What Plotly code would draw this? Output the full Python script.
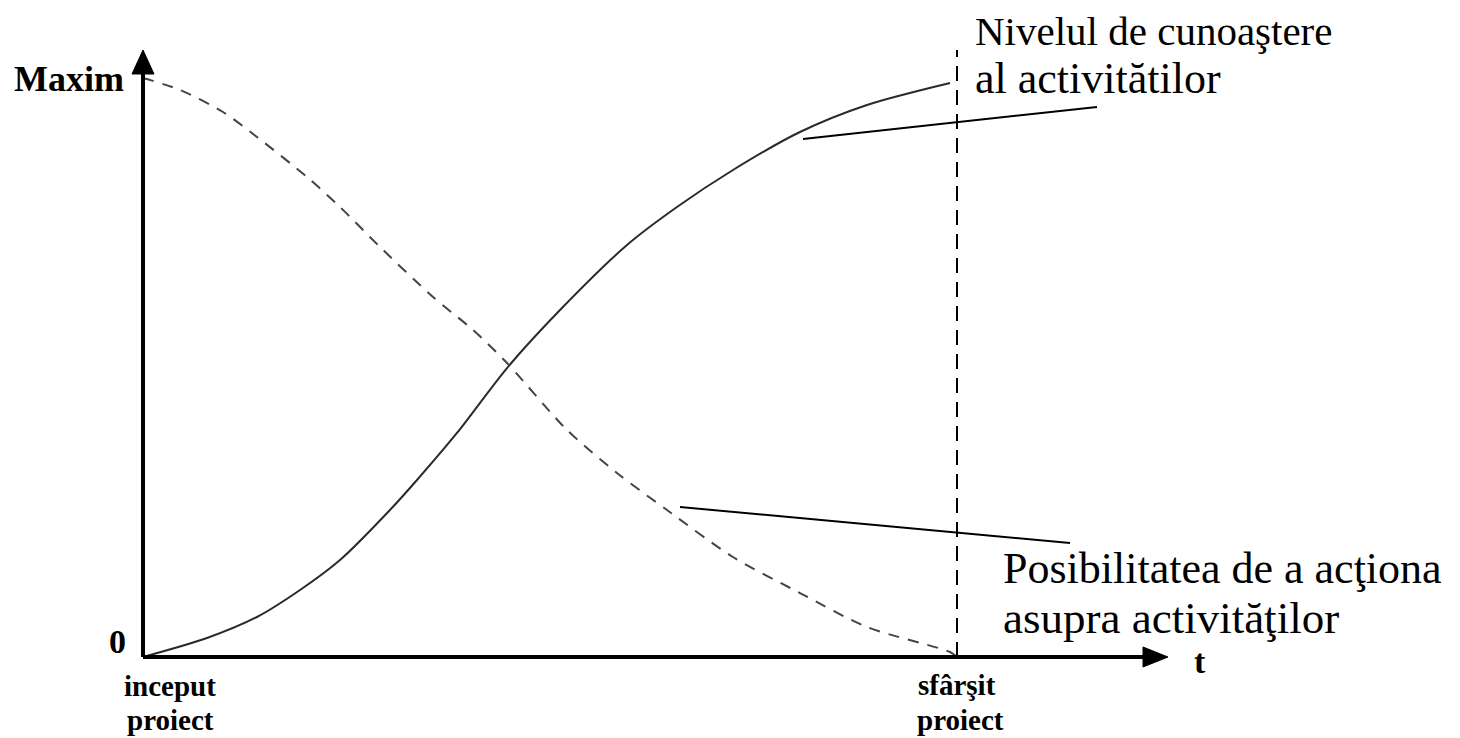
import plotly.graph_objects as go

# ---- data (t: 0 = project start, 1 = project end; level: 0 .. 1 = Maxim) ----
knowledge_t = [0.0, 0.0786, 0.1400, 0.1929, 0.2420, 0.3034, 0.3366, 0.3857, 0.4472,
               0.5123, 0.5946, 0.6560, 0.7248, 0.8071, 0.8894, 0.9914]
knowledge_level = [0.0, 0.0328, 0.0691, 0.1157, 0.1675, 0.2539, 0.3057, 0.3869, 0.4991,
                   0.5993, 0.7116, 0.7772, 0.8411, 0.9067, 0.9534, 0.9914]

action_t = [0.0, 0.0455, 0.0983, 0.1400, 0.2015, 0.2420, 0.2912, 0.3563, 0.4054, 0.4472,
            0.5209, 0.5823, 0.6437, 0.7248, 0.8071, 0.8894, 0.9914, 1.0]
action_level = [1.0, 0.9793, 0.9413, 0.8981, 0.8290, 0.7772, 0.7081, 0.6218, 0.5648, 0.5078,
                0.3921, 0.3178, 0.2539, 0.1727, 0.1105, 0.0518, 0.0086, 0.0]

y_labels = ["0", "Maxim"]
x_labels = ["inceput", "proiect", "sfârşit", "proiect"]
axis_name = "t"
label_knowledge = ["Nivelul de cunoaştere", "al activitătilor"]
label_action = ["Posibilitatea de a acţiona", "asupra activităţilor"]

# ---- layout geometry (page pixels) ----
W, H = 1460, 738
OFF = 8                 # default page body margin
X0, X1 = 143, 957       # page pixel of t=0 and t=1
Y0, Y1 = 657, 78        # page pixel of level=0 and level=1


def tx(px):
    return (px - X0) / (X1 - X0)


def ty(py):
    return (Y0 - py) / (Y0 - Y1)


fig = go.Figure()

fig.add_trace(go.Scatter(x=knowledge_t, y=knowledge_level, mode="lines",
                         line=dict(color="#2a2a2a", width=2, shape="spline", smoothing=0.8),
                         hoverinfo="skip", showlegend=False))
fig.add_trace(go.Scatter(x=action_t, y=action_level, mode="lines",
                         line=dict(color="#444444", width=2, dash="11px,9px", shape="spline", smoothing=0.8),
                         hoverinfo="skip", showlegend=False))

shapes = []
# axes
shapes.append(dict(type="line", xref="x", yref="y", x0=0, x1=tx(1146), y0=0, y1=0,
                   line=dict(color="black", width=4)))
shapes.append(dict(type="line", xref="x", yref="y", x0=0, x1=0, y0=0, y1=ty(72),
                   line=dict(color="black", width=4)))
# arrow heads
shapes.append(dict(type="path", xref="x", yref="y", xsizemode="pixel", ysizemode="pixel",
                   xanchor=tx(1168), yanchor=0, path="M 0,0 L -25,10 L -25,-10 Z",
                   fillcolor="black", line=dict(color="black", width=1)))
shapes.append(dict(type="path", xref="x", yref="y", xsizemode="pixel", ysizemode="pixel",
                   xanchor=0, yanchor=ty(50), path="M 0,0 L -11,-24 L 11,-24 Z",
                   fillcolor="black", line=dict(color="black", width=1)))
# end of project vertical dashed line
shapes.append(dict(type="line", xref="x", yref="y", x0=1, x1=1, y0=0, y1=ty(50),
                   line=dict(color="black", width=2, dash="15px,9px")))
# leader lines
shapes.append(dict(type="line", xref="x", yref="y", x0=tx(803), y0=ty(139), x1=tx(1097), y1=ty(107),
                   line=dict(color="black", width=2)))
shapes.append(dict(type="line", xref="x", yref="y", x0=tx(680), y0=ty(507), x1=tx(1070), y1=ty(543),
                   line=dict(color="black", width=2)))

serif = "Liberation Serif"
ann = []


def add_text(text, px, py, xanchor, size, bold=False):
    ann.append(dict(text=text, x=tx(px), y=ty(py), xref="x", yref="y", showarrow=False,
                    xanchor=xanchor, yanchor="middle",
                    font=dict(family=serif, size=size, color="black",
                              weight="bold" if bold else "normal")))


add_text(y_labels[1], 126, 79, "right", 36, True)
add_text(y_labels[0], 117, 641, "center", 34, True)
add_text(axis_name, 1200, 661, "center", 34, True)
add_text(x_labels[0], 170, 686, "center", 29, True)
add_text(x_labels[1], 170, 720, "center", 29, True)
add_text(x_labels[2], 957, 685, "center", 29, True)
add_text(x_labels[3], 960, 720, "center", 29, True)
add_text(label_knowledge[0], 973, 31, "left", 41)
add_text(label_knowledge[1], 973, 78, "left", 44)
add_text(label_action[0], 1001, 568, "left", 44)
add_text(label_action[1], 1001, 618, "left", 45)

fig.update_layout(
    width=W, height=H,
    margin=dict(l=0, r=0, t=0, b=0),
    paper_bgcolor="white", plot_bgcolor="white",
    xaxis=dict(range=[tx(OFF), tx(OFF + W)], visible=False, fixedrange=True),
    yaxis=dict(range=[ty(OFF + H), ty(OFF)], visible=False, fixedrange=True),
    shapes=shapes, annotations=ann, showlegend=False,
)

fig.write_html("out.html")
